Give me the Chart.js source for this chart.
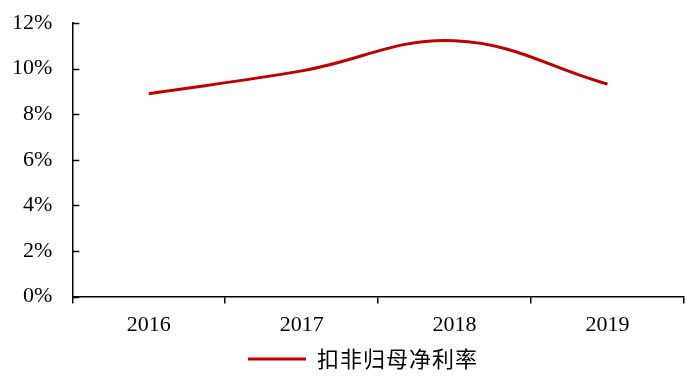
<!DOCTYPE html>
<html lang="zh">
<head>
<meta charset="UTF-8">
<title>扣非归母净利率</title>
<script src="https://cdn.jsdelivr.net/npm/chart.js"></script>
<style>
  html, body { margin: 0; padding: 0; background: #fff; }
  #wrap { width: 700px; height: 376px; }
</style>
</head>
<body>
<div id="wrap"><canvas id="c" width="700" height="376"></canvas></div>
<script>
  // data
  const years = ['2016', '2017', '2018', '2019'];
  const margin = [8.9, 9.9, 11.22, 9.32];
  const seriesName = '扣非归母净利率';

  const lineRed = '#C00000';

  // small inward ticks on the y axis, like the original
  const yTicksInside = {
    id: 'yTicksInside',
    afterDatasetsDraw(chart) {
      const y = chart.scales.y;
      const ctx = chart.ctx;
      ctx.save();
      ctx.strokeStyle = '#000';
      ctx.lineWidth = 1.5;
      y.ticks.forEach(t => {
        const py = Math.round(y.getPixelForValue(t.value)) + 0.5;
        ctx.beginPath();
        ctx.moveTo(y.right, py);
        ctx.lineTo(y.right + 7, py);
        ctx.stroke();
      });
      ctx.restore();
    }
  };

  // the legend text in the original is spread out a bit and sits a little right of centre
  const legendSpacing = {
    id: 'legendSpacing',
    beforeLayout(chart) {
      const lg = chart.legend;
      if (!lg || lg._spaced) return;
      lg._spaced = true;
      const wrap = (fn, shift) => function () {
        const ctx = this.ctx;
        ctx.save();
        ctx.letterSpacing = '1px';
        if (shift) ctx.translate(shift, 0);
        const r = fn.apply(this, arguments);
        ctx.restore();
        return r;
      };
      lg.fit = wrap(lg.fit, 0);
      lg.draw = wrap(lg.draw, 15);
    }
  };

  new Chart(document.getElementById('c'), {
    type: 'line',
    data: {
      labels: years,
      datasets: [{
        label: seriesName,
        data: margin,
        borderColor: lineRed,
        backgroundColor: lineRed,
        borderWidth: 3,
        pointRadius: 0,
        tension: 0.4,
        fill: false
      }]
    },
    options: {
      responsive: false,
      animation: false,
      layout: { padding: { top: 23, right: 16, left: 12, bottom: -4 } },
      plugins: {
        tooltip: { enabled: false },
        legend: {
          position: 'bottom',
          labels: {
            boxWidth: 58,
            boxHeight: 3,
            padding: 2,
            color: '#000',
            font: { family: '"Noto Sans CJK SC"', size: 22 },
            generateLabels(chart) {
              const items = Chart.defaults.plugins.legend.labels.generateLabels(chart);
              items.forEach(it => { it.lineWidth = 0; });
              return items;
            }
          }
        }
      },
      scales: {
        x: {
          offset: true,
          grid: {
            offset: true,
            drawOnChartArea: false,
            tickLength: 7,
            color: '#000',
            lineWidth: 1.5
          },
          border: { color: '#000', width: 1.5 },
          ticks: {
            color: '#000',
            padding: 8,
            font: { family: '"Liberation Serif"', size: 22 }
          }
        },
        y: {
          min: 0,
          max: 12,
          // invisible tick marks just make the gap between labels and axis
          grid: { drawOnChartArea: false, tickLength: 20, tickColor: 'rgba(0,0,0,0)' },
          border: { color: '#000', width: 1.5 },
          ticks: {
            stepSize: 2,
            color: '#000',
            padding: 0,
            font: { family: '"Liberation Serif"', size: 22 },
            callback: v => v + '%'
          }
        }
      }
    },
    plugins: [yTicksInside, legendSpacing]
  });
</script>
</body>
</html>
